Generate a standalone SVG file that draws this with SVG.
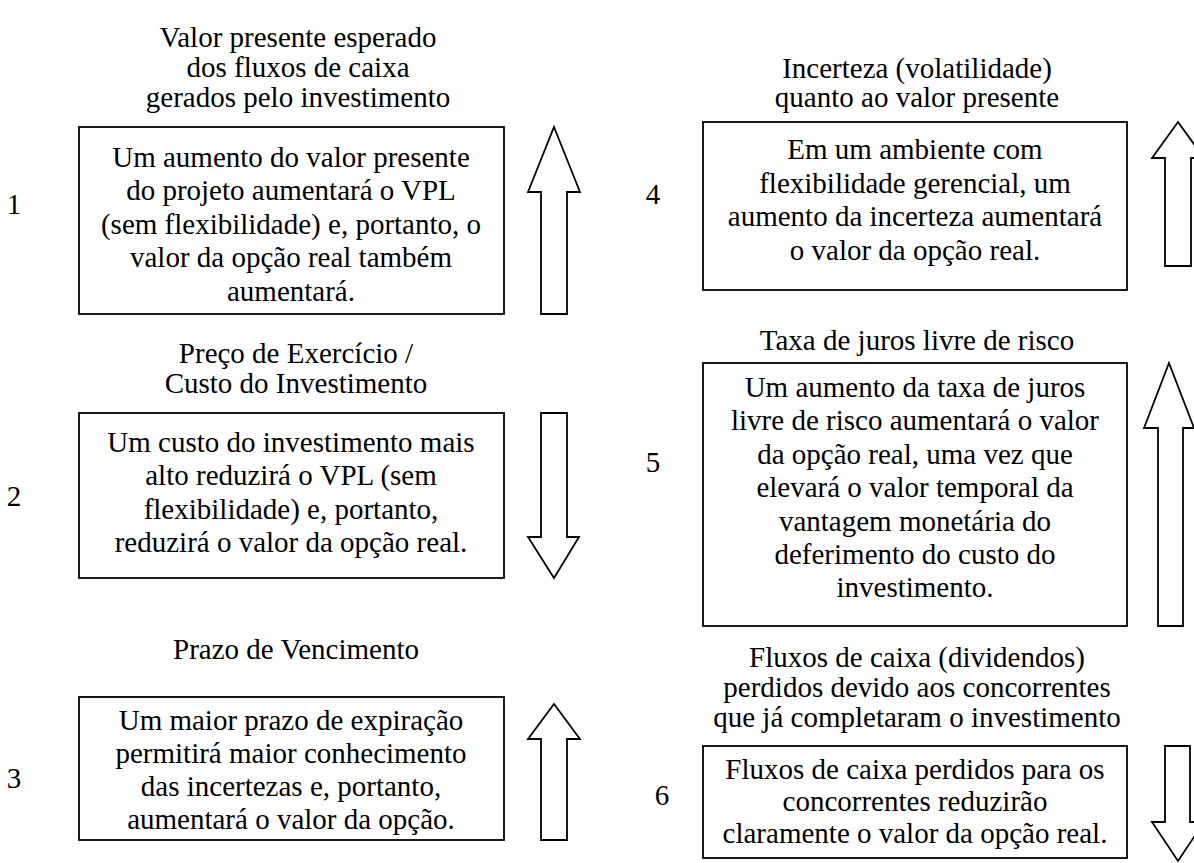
<svg xmlns="http://www.w3.org/2000/svg" width="1194" height="863" viewBox="0 0 1194 863">
<style>
text{font-family:"Liberation Serif","Times New Roman",serif;font-size:29px;fill:#000;text-anchor:middle}
.box{fill:#fff;stroke:#000;stroke-width:1.8}
.arr{fill:#fff;stroke:#000;stroke-width:1.8;stroke-linejoin:miter}
</style>
<rect width="1194" height="863" fill="#fff"/>
<g id="titles">
<text x="298" y="47">Valor presente esperado</text>
<text x="298" y="77">dos fluxos de caixa</text>
<text x="298" y="107">gerados pelo investimento</text>
<text x="296" y="363">Preço de Exercício /</text>
<text x="296" y="393">Custo do Investimento</text>
<text x="296" y="659">Prazo de Vencimento</text>
<text x="917" y="78">Incerteza (volatilidade)</text>
<text x="917" y="107">quanto ao valor presente</text>
<text x="917" y="350">Taxa de juros livre de risco</text>
<text x="917" y="667">Fluxos de caixa (dividendos)</text>
<text x="917" y="697">perdidos devido aos concorrentes</text>
<text x="917" y="727">que já completaram o investimento</text>
</g>
<g id="node1">
<text x="14" y="214">1</text>
<rect class="box" x="79" y="127" width="425" height="187"/>
<text x="291" y="167">Um aumento do valor presente</text>
<text x="291" y="200">do projeto aumentará o VPL</text>
<text x="291" y="234">(sem flexibilidade) e, portanto, o</text>
<text x="291" y="267">valor da opção real também</text>
<text x="291" y="301">aumentará.</text>
</g>
<g id="node2">
<text x="14" y="506">2</text>
<rect class="box" x="79" y="413" width="425" height="165"/>
<text x="291" y="452">Um custo do investimento mais</text>
<text x="291" y="485">alto reduzirá o VPL (sem</text>
<text x="291" y="519">flexibilidade) e, portanto,</text>
<text x="291" y="552">reduzirá o valor da opção real.</text>
</g>
<g id="node3">
<text x="14" y="788">3</text>
<rect class="box" x="79" y="697" width="425" height="143"/>
<text x="291" y="730">Um maior prazo de expiração</text>
<text x="291" y="763">permitirá maior conhecimento</text>
<text x="291" y="796">das incertezas e, portanto,</text>
<text x="291" y="829">aumentará o valor da opção.</text>
</g>
<g id="node4">
<text x="653" y="204">4</text>
<rect class="box" x="703" y="122" width="424" height="168"/>
<text x="915" y="159">Em um ambiente com</text>
<text x="915" y="193">flexibilidade gerencial, um</text>
<text x="915" y="226">aumento da incerteza aumentará</text>
<text x="915" y="260">o valor da opção real.</text>
</g>
<g id="node5">
<text x="653" y="472">5</text>
<rect class="box" x="703" y="363" width="424" height="263"/>
<text x="915" y="397">Um aumento da taxa de juros</text>
<text x="915" y="430">livre de risco aumentará o valor</text>
<text x="915" y="464">da opção real, uma vez que</text>
<text x="915" y="497">elevará o valor temporal da</text>
<text x="915" y="531">vantagem monetária do</text>
<text x="915" y="564">deferimento do custo do</text>
<text x="915" y="597">investimento.</text>
</g>
<g id="node6">
<text x="662" y="805">6</text>
<rect class="box" x="703" y="746" width="424" height="112"/>
<text x="915" y="779">Fluxos de caixa perdidos para os</text>
<text x="915" y="811">concorrentes reduzirão</text>
<text x="915" y="843">claramente o valor da opção real.</text>
</g>
<g id="connectors">
<polygon class="arr" points="554,127 580,192 567,192 567,314 541,314 541,192 528,192"/>
<polygon class="arr" points="541,413 567,413 567,537 579,537 554,578 528,537 541,537"/>
<polygon class="arr" points="554,704 580,739 567,739 567,840 541,840 541,739 528,739"/>
<polygon class="arr" points="1178,122 1204,158 1191,158 1191,266 1165,266 1165,158 1152,158"/>
<polygon class="arr" points="1169,363 1194,428 1183,428 1183,626 1158,626 1158,428 1144,428"/>
<polygon class="arr" points="1165,746 1190,746 1190,822 1204,822 1178,861 1152,822 1165,822"/>
</g>
</svg>
